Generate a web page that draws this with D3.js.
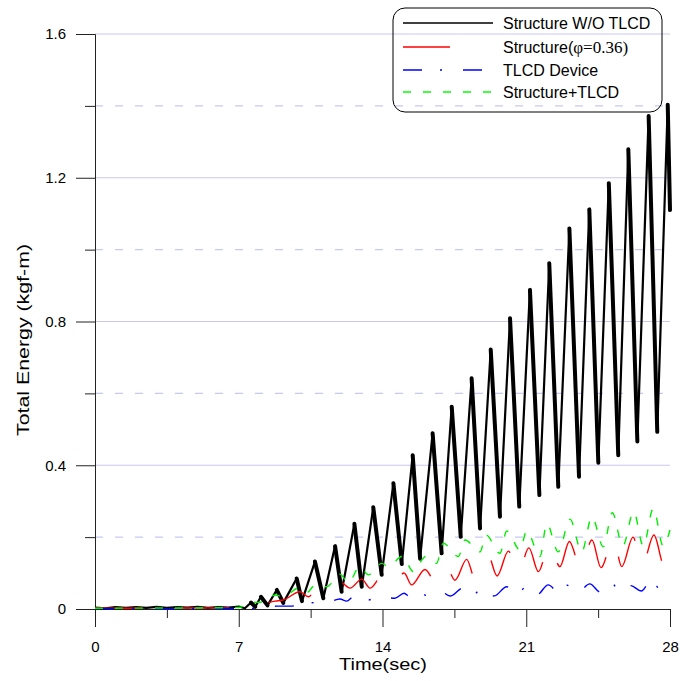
<!DOCTYPE html>
<html>
<head>
<meta charset="utf-8">
<script src="https://cdn.jsdelivr.net/npm/d3@7"></script>
<style>
  body { margin: 0; background: #fff; }
  svg text { font-family: Arial, "Liberation Sans", sans-serif; fill: #000; }
</style>
</head>
<body>
<svg id="chart" width="682" height="681"></svg>
<script>
// values: [time (sec), energy (kgf-m)]
const structNoTlcd = [
  [0,0.004],[0.5,0.002],[1,0.005],[1.5,0.003],[2,0.005],[2.5,0.003],[3,0.006],[3.5,0.003],
  [4,0.005],[4.5,0.004],[5,0.006],[5.5,0.003],[6,0.005],[6.5,0.004],[7,0.007],[7.3,0.002],
  [7.6,0.018],[7.8,0.006],[8.08,0.034],[8.4,0.01],[8.85,0.053],[9.17,0.017],[9.82,0.085],
  [10.08,0.022],[10.71,0.132],[11.12,0.030],[11.69,0.175],[12.01,0.048],[12.63,0.237],
  [12.99,0.062],[13.55,0.283],[13.96,0.095],[14.53,0.350],[14.94,0.125],[15.47,0.428],
  [15.83,0.140],[16.44,0.489],[16.88,0.155],[17.37,0.563],[17.81,0.201],[18.34,0.642],
  [18.75,0.224],[19.27,0.722],[19.72,0.257],[20.21,0.809],[20.66,0.285],[21.18,0.888],
  [21.64,0.317],[22.12,0.962],[22.56,0.340],[23.10,1.059],[23.57,0.368],[24.07,1.112],
  [24.51,0.407],[25.02,1.185],[25.48,0.428],[25.97,1.279],[26.41,0.466],[26.96,1.372],
  [27.38,0.493],[27.89,1.403],[28,1.11]
];

const structPhi = [
  [0,0.002],[2,0.002],[4,0.003],[6,0.003],[6.8,0.004],[7.3,0.006],[8.03,0.012],[8.77,0.022],
  [9.17,0.025],[9.98,0.048],[10.39,0.034],[10.87,0.062],[11.35,0.050],[11.93,0.075],
  [12.42,0.058],[12.99,0.083],[13.39,0.058],[14.02,0.095],[14.46,0.062],[15.05,0.100],
  [15.42,0.067],[16.07,0.110],[16.61,0.073],[17.09,0.122],[17.53,0.080],[18.10,0.138],
  [18.50,0.085],[19.14,0.150],[19.58,0.092],[20.13,0.161],[20.61,0.099],[21.13,0.170],
  [21.59,0.104],[22.12,0.180],[22.64,0.118],[23.10,0.188],[23.65,0.113],[24.20,0.192],
  [24.64,0.115],[25.24,0.197],[25.65,0.118],[26.20,0.200],[26.64,0.120],[27.22,0.206],
  [27.71,0.122],[28,0.14]
];

const tlcdDevice = [
  [0,0.001],[4,0.001],[8,0.002],[8.85,0.008],[9.5,0.008],[10.08,0.012],[10.71,0.018],
  [11.2,0.016],[11.93,0.028],[12.26,0.022],[12.58,0.034],[13.31,0.025],[13.8,0.035],
  [14.6,0.030],[15.05,0.044],[15.34,0.034],[15.69,0.045],[16.31,0.036],[16.8,0.050],
  [17.29,0.036],[17.93,0.059],[18.4,0.040],[18.95,0.062],[19.43,0.036],[20.05,0.062],
  [20.55,0.042],[21.05,0.065],[21.51,0.039],[22.07,0.067],[22.6,0.045],[23.0,0.066],
  [23.46,0.044],[24.1,0.070],[24.6,0.047],[25.2,0.070],[25.55,0.045],[26.1,0.065],
  [26.6,0.050],[27.11,0.083],[27.6,0.045],[28,0.055]
];

const structTlcd = [
  [0,0.002],[4,0.003],[7,0.004],[7.55,0.017],[8.2,0.02],[8.77,0.039],[9.2,0.034],[9.9,0.058],
  [10.3,0.045],[10.7,0.065],[11.28,0.062],[11.93,0.097],[12.33,0.073],[12.9,0.118],
  [13.31,0.095],[13.96,0.127],[14.28,0.118],[14.98,0.147],[15.5,0.104],[16.1,0.146],
  [16.63,0.127],[16.96,0.183],[17.69,0.146],[18.02,0.192],[18.75,0.159],[19.04,0.206],
  [19.72,0.155],[20.05,0.217],[20.70,0.164],[21.02,0.218],[21.67,0.146],[22.0,0.238],
  [22.56,0.159],[23.13,0.250],[23.70,0.159],[24.2,0.257],[24.75,0.173],[25.19,0.268],
  [25.7,0.175],[26.23,0.271],[26.7,0.175],[27.19,0.280],[27.67,0.175],[28,0.22]
];

const xMajor = [0, 7, 14, 21, 28];
const xMinor = [3.5, 10.5, 17.5, 24.5];
const yMajor = [0, 0.4, 0.8, 1.2, 1.6];
const yMinor = [0.2, 0.6, 1.0, 1.4];

const legendItems = [
  { name: "Structure W/O TLCD", color: "#000", dash: null, len: 90 },
  { name: "Structure(", greek: "\u03c6=0.36)", color: "#ff0000", dash: null, len: 47 },
  { name: "TLCD Device", color: "#0000ff", dash: "19,18,2,21", len: 80 },
  { name: "Structure+TLCD", color: "#00ff00", dash: "8,12", len: 90 }
];

const svg = d3.select("#chart");
const x = d3.scaleLinear().domain([0, 28]).range([95, 670]);
const y = d3.scaleLinear().domain([0, 1.6]).range([609, 34]);

// grid
svg.append("g").selectAll("line")
  .data(yMajor.slice(1))
  .join("line")
  .attr("x1", x(0)).attr("x2", x(28))
  .attr("y1", d => y(d)).attr("y2", d => y(d))
  .attr("stroke", "#c8c8f4").attr("stroke-width", 1.2);

svg.append("g").selectAll("line")
  .data(yMinor)
  .join("line")
  .attr("x1", x(0)).attr("x2", x(28))
  .attr("y1", d => y(d)).attr("y2", d => y(d))
  .attr("stroke", "#c8c8f4").attr("stroke-width", 1.2)
  .attr("stroke-dasharray", "8,12");

// axes
svg.append("g").attr("transform", `translate(0,${y(0)})`)
  .call(d3.axisBottom(x).tickValues(xMajor).tickSize(18).tickSizeOuter(0).tickPadding(14));
svg.append("g").attr("transform", `translate(0,${y(0)})`)
  .call(d3.axisBottom(x).tickValues(xMinor).tickSize(9).tickSizeOuter(0).tickFormat(""));
svg.append("g").attr("transform", `translate(${x(0)},0)`)
  .call(d3.axisLeft(y).tickValues(yMajor).tickSize(19).tickSizeOuter(0).tickPadding(10)
    .tickFormat(d => d === 0 ? "0" : d3.format(".1f")(d)));
svg.append("g").attr("transform", `translate(${x(0)},0)`)
  .call(d3.axisLeft(y).tickValues(yMinor).tickSize(10).tickSizeOuter(0).tickFormat(""));

svg.selectAll(".domain, .tick line").attr("stroke", "#222");
svg.selectAll(".tick text").style("font-size", "15px")
  .style("font-family", "Arial, 'Liberation Sans', sans-serif");

// series
const line = d3.line().x(d => x(d[0])).y(d => y(d[1]));
const smooth = d3.line().x(d => x(d[0])).y(d => y(d[1])).curve(d3.curveMonotoneX);

svg.append("path").datum(structNoTlcd)
  .attr("d", line).attr("fill", "none")
  .attr("stroke", "#000").attr("stroke-width", 2.2).attr("stroke-linejoin", "round");

// the falling side of each swing reads heavier in the original
const falling = d3.pairs(structNoTlcd).filter(p => p[0][0] > 7.5 && p[1][1] < p[0][1]);
svg.append("g").selectAll("path")
  .data(falling)
  .join("path")
  .attr("d", line).attr("fill", "none")
  .attr("stroke", "#000").attr("stroke-width", 4).attr("stroke-linecap", "round");

svg.append("path").datum(structPhi)
  .attr("d", smooth).attr("fill", "none")
  .attr("stroke", "#ff0000").attr("stroke-width", 1.4)
  .attr("stroke-dasharray", "47,40");

svg.append("path").datum(tlcdDevice)
  .attr("d", smooth).attr("fill", "none")
  .attr("stroke", "#0000ff").attr("stroke-width", 1.4)
  .attr("stroke-dasharray", "19,18,2,21");

svg.append("path").datum(structTlcd)
  .attr("d", smooth).attr("fill", "none")
  .attr("stroke", "#00ee00").attr("stroke-width", 1.4)
  .attr("stroke-dasharray", "8,12");

// axis titles
svg.append("text")
  .attr("x", 383).attr("y", 670)
  .attr("text-anchor", "middle")
  .attr("textLength", 88).attr("lengthAdjust", "spacingAndGlyphs")
  .style("font-size", "17px")
  .text("Time(sec)");

svg.append("text")
  .attr("transform", "translate(29,340) rotate(-90)")
  .attr("text-anchor", "middle")
  .attr("textLength", 192).attr("lengthAdjust", "spacingAndGlyphs")
  .style("font-size", "17px")
  .text("Total Energy (kgf-m)");

// legend
const legend = svg.append("g");
legend.append("rect")
  .attr("x", 393).attr("y", 8).attr("width", 269).attr("height", 104)
  .attr("rx", 12).attr("fill", "none").attr("stroke", "#000").attr("stroke-width", 1);

const rowY = [23, 47, 70, 92];
legendItems.forEach((it, i) => {
  legend.append("line")
    .attr("x1", 403).attr("x2", 403 + it.len)
    .attr("y1", rowY[i]).attr("y2", rowY[i])
    .attr("stroke", it.color).attr("stroke-width", 1.3)
    .attr("stroke-dasharray", it.dash);
  const t = legend.append("text")
    .attr("x", 503).attr("y", rowY[i] + 5.5)
    .style("font-size", "16px")
    .text(it.name);
  if (it.greek) {
    t.append("tspan")
      .style("font-family", "'Times New Roman', 'Liberation Serif', serif")
      .style("font-size", "17px")
      .text(it.greek);
  }
});
</script>
</body>
</html>
